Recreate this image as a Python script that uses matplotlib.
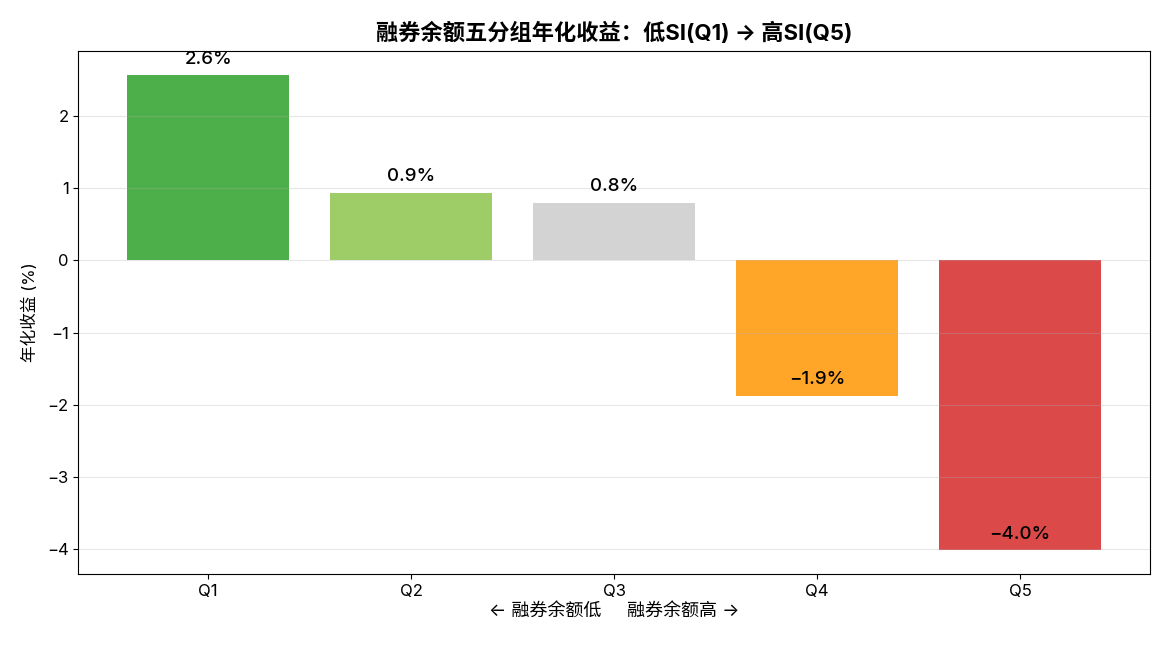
import matplotlib
matplotlib.use("Agg")
import matplotlib.pyplot as plt

plt.rcParams['font.family'] = ['Inter', 'Noto Sans CJK SC', 'DejaVu Sans']
plt.rcParams['axes.unicode_minus'] = True

categories = ["Q1", "Q2", "Q3", "Q4", "Q5"]
returns = [2.57, 0.94, 0.80, -1.87, -4.01]
labels = ["2.6%", "0.9%", "0.8%", "\u22121.9%", "\u22124.0%"]
colors = ["#4daf4a", "#9ecd68", "#d3d3d3", "#ffa629", "#dc4949"]

fig, ax = plt.subplots(figsize=(11.7, 6.5), dpi=100)
fig.subplots_adjust(left=0.067, right=0.983, top=0.9215, bottom=0.117)

x = range(len(categories))
ax.bar(x, returns, width=0.8, color=colors)
for xi, v, lab in zip(x, returns, labels):
    ax.text(xi, v + 0.1, lab, ha='center', va='bottom', fontsize=13.5, fontweight='medium')

ax.set_xticks(list(x))
ax.set_xticklabels(categories, fontsize=12)
ax.tick_params(axis='y', labelsize=12)
ax.set_yticks([-4, -3, -2, -1, 0, 1, 2])
ax.set_yticklabels(["\u22124", "\u22123", "\u22122", "\u22121", "0", "1", "2"])
ax.grid(axis='y', alpha=0.3)
ax.set_ylabel("年化收益 (%)", fontsize=12, labelpad=6)
ax.set_xlabel("← 融券余额低     融券余额高 →", fontsize=13, labelpad=3)
ax.set_title("融券余额五分组年化收益：低SI(Q1) → 高SI(Q5)", fontsize=16, fontweight='bold', pad=8)

fig.savefig("out.png", dpi=100)
